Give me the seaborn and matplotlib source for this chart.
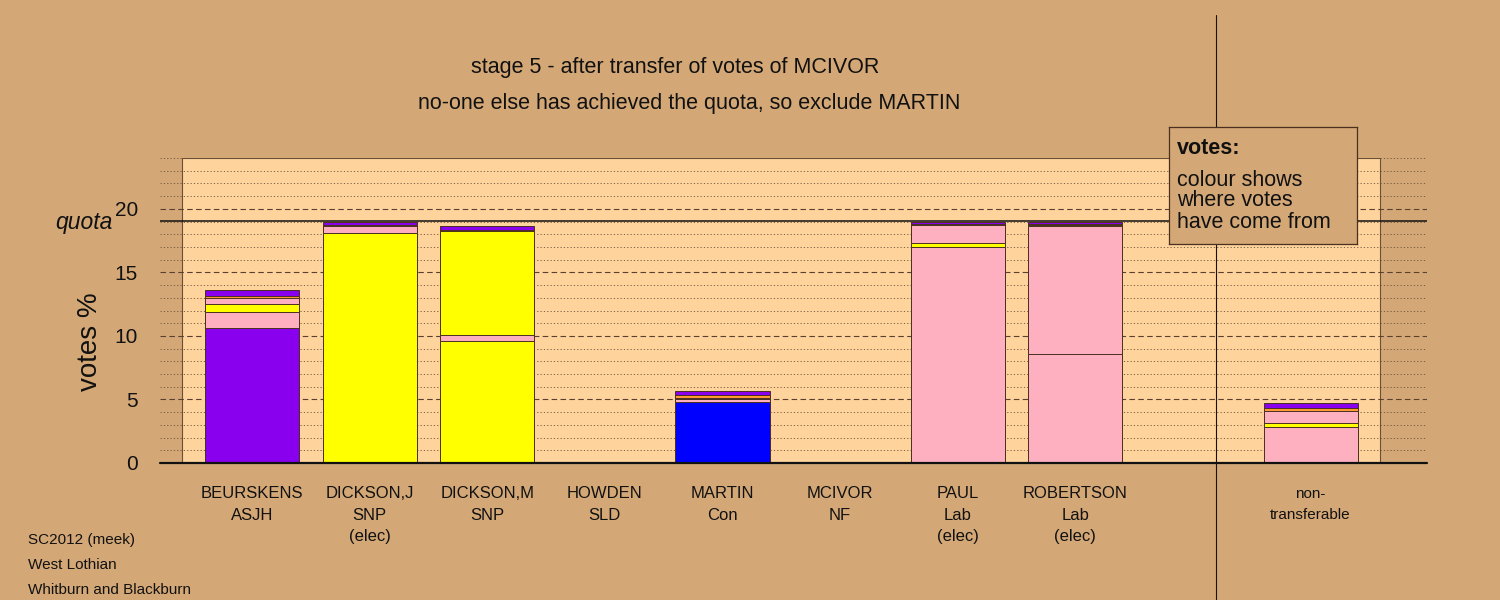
import pandas as pd
import matplotlib
matplotlib.use('Agg')
import matplotlib.pyplot as plt
import matplotlib.transforms as mtransforms
from matplotlib.lines import Line2D
import seaborn as sns

# slots along the x axis (one empty slot before non-transferable)
slots = ['BEURSKENS', 'DICKSON,J', 'DICKSON,M', 'HOWDEN', 'MARTIN',
         'MCIVOR', 'PAUL', 'ROBERTSON', 'gap', 'non-transferable']
name_lines = [['BEURSKENS', 'ASJH'], ['DICKSON,J', 'SNP', '(elec)'],
              ['DICKSON,M', 'SNP'], ['HOWDEN', 'SLD'], ['MARTIN', 'Con'],
              ['MCIVOR', 'NF'], ['PAUL', 'Lab', '(elec)'],
              ['ROBERTSON', 'Lab', '(elec)'], [], ['non-', 'transferable']]
party_colours = ['#8800EE', '#FFFF00', '#FFFF00', '#FF9933', '#0000FF',
                 '#8800EE', '#FFB0C0', '#FFB0C0', '#FFB0C0', '#FFB0C0']

# votes % by where they came from (bottom to top of each bar)
own      = [10.63, 18.10, 9.60, 0, 4.78, 0, 17.00, 8.58, 0, 0]
from_lab = [1.26, 0, 0.47, 0, 0.22, 0, 0, 10.08, 0, 2.85]
from_snp = [0.63, 0, 8.20, 0, 0.06, 0, 0.30, 0.08, 0, 0.30]
from_lab2 = [0.47, 0.55, 0, 0, 0.04, 0, 1.45, 0, 0, 0.95]
from_sld = [0.16, 0.07, 0.10, 0, 0.28, 0, 0.03, 0.04, 0, 0.20]
from_nf  = [0.47, 0.28, 0.30, 0, 0.32, 0, 0.20, 0.20, 0, 0.42]

quota = 19.06
yticks = [0, 5, 10, 15, 20]

title1 = 'stage 5 - after transfer of votes of MCIVOR'
title2 = 'no-one else has achieved the quota, so exclude MARTIN'
footer = ['SC2012 (meek)', 'West Lothian', 'Whitburn and Blackburn']

BG = '#D4A876'
PANEL = '#FFD39C'
EDGE = '#4a3020'
PINK = '#FFB0C0'

df = pd.DataFrame({'slot': slots})
df['c1'] = own
df['c2'] = df['c1'] + from_lab
df['c3'] = df['c2'] + from_snp
df['c4'] = df['c3'] + from_lab2
df['c5'] = df['c4'] + from_sld
df['c6'] = df['c5'] + from_nf

sns.set_style('white')
plt.rcParams['font.family'] = ['Liberation Sans', 'DejaVu Sans']

fig = plt.figure(figsize=(15, 6), dpi=100, facecolor=BG)
ax = fig.add_axes([160 / 1500, 1 - 463 / 600, 1267 / 1500, 305 / 600])
ax.set_facecolor('none')

# stacked bars: draw cumulative totals from the top down
layers = [('c6', '#8800EE'), ('c5', '#FF9933'), ('c4', PINK),
          ('c3', '#FFFF00'), ('c2', PINK)]
for col, colour in layers:
    sns.barplot(data=df, x='slot', y=col, order=slots, color=colour,
                saturation=1, errorbar=None, edgecolor=EDGE, linewidth=0.7,
                width=0.8, zorder=3, ax=ax)
sns.barplot(data=df, x='slot', y='c1', order=slots, hue='slot',
            palette=dict(zip(slots, party_colours)), legend=False,
            saturation=1, errorbar=None, edgecolor=EDGE, linewidth=0.7,
            width=0.8, zorder=3, ax=ax)

ax.set_xlim(-0.782, 9.99)
ax.set_ylim(0, 24)
ax.set_xlabel('')
ax.set_ylabel('')
ax.set_xticks([])
for s in ax.spines.values():
    s.set_visible(False)

# light panel behind the bars
ax.add_patch(plt.Rectangle((-0.595, 0), 9.59 + 0.595, 24, facecolor=PANEL,
                           edgecolor='#6b5038', linewidth=0.8, zorder=0))

# grid lines across the whole axes
for v in range(1, 25):
    if v % 5 == 0:
        ax.axhline(v, color='#5a4030', linestyle=(0, (5, 3)), linewidth=0.8, zorder=1)
    else:
        ax.axhline(v, color='#6b5038', linestyle=(0, (1.5, 2.5)), linewidth=0.6, zorder=1)
ax.axhline(quota, color='#111111', linewidth=1.1, zorder=2)
ax.axhline(0, color='#111111', linewidth=1.6, zorder=4, clip_on=False)

ax.set_yticks(yticks)
ax.set_yticklabels([str(t) for t in yticks])
ax.tick_params(axis='y', length=0, pad=16, labelsize=15, labelcolor='#111111')

fig.text(113 / 1500, 1 - 222 / 600, 'quota', ha='right', va='center',
         fontsize=16.5, style='italic', color='#111111')
fig.text(90 / 1500, 1 - 342 / 600, 'votes %', ha='center', va='center',
         rotation=90, fontsize=20, color='#111111')

fig.text(675 / 1500, 1 - 68 / 600, title1, ha='center', va='center',
         fontsize=15.5, color='#111111')
fig.text(689 / 1500, 1 - 104 / 600, title2, ha='center', va='center',
         fontsize=15.5, color='#111111')

# candidate labels under the bars
trans = mtransforms.blended_transform_factory(ax.transData, fig.transFigure)
for i, lines in enumerate(name_lines):
    small = slots[i] == 'non-transferable'
    for j, txt in enumerate(lines):
        y = 494 + 21 * j
        ax.text(i, 1 - y / 600, txt, transform=trans, ha='center', va='center',
                fontsize=11 if small else 12, color='#111111')

for j, txt in enumerate(footer):
    fig.text(28 / 1500, 1 - (540 + 25 * j) / 600, txt, ha='left', va='center',
             fontsize=11, color='#111111')

# vertical divider
fig.add_artist(Line2D([1216 / 1500, 1216 / 1500], [0, 1 - 15 / 600],
                      color='#1a1008', linewidth=0.8, zorder=5))

# note box
box_ax = fig.add_axes([1169 / 1500, 1 - 244 / 600, 188 / 1500, 117 / 600], zorder=10)
box_ax.set_facecolor(BG)
box_ax.set_xticks([])
box_ax.set_yticks([])
for s in box_ax.spines.values():
    s.set_color('#4a3020')
    s.set_linewidth(0.9)
fig.text(1177 / 1500, 1 - 148 / 600, 'votes:', ha='left', va='center',
         fontsize=15.5, fontweight='bold', color='#111111', zorder=11)
for j, txt in enumerate(['colour shows', 'where votes', 'have come from']):
    fig.text(1177 / 1500, 1 - (180 + 21 * j) / 600, txt, ha='left', va='center',
             fontsize=15.5, color='#111111', zorder=11)

fig.savefig('out.png', dpi=100, facecolor=BG)
